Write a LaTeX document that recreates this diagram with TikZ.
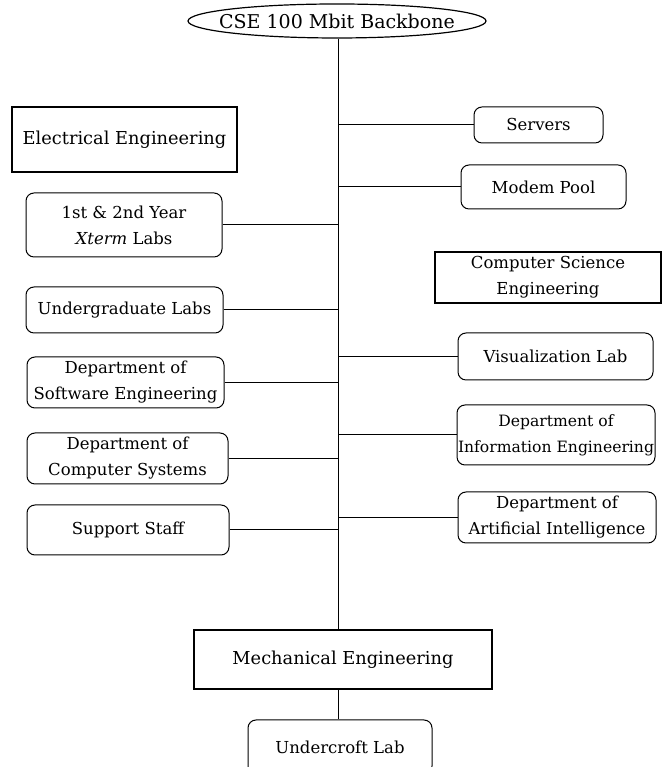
\documentclass[tikz,border=0pt]{standalone}
\usepackage{fontspec}
\setmainfont{DejaVu Serif}
\usetikzlibrary{shapes.geometric}
\begin{document}
\begin{tikzpicture}[x=1pt,y=1pt,
  lbl/.style={font=\fontsize{16.5}{26}\selectfont, align=center, inner sep=0pt},
  big/.style={font=\fontsize{17.8}{26}\selectfont},
  rbox/.style={lbl, draw, line width=1pt, rounded corners=8pt, rectangle},
  sbox/.style={lbl, draw, line width=1.2pt, rectangle},
  conn/.style={line width=1pt}]
\useasboundingbox (0,0) rectangle (663,767);
\coordinate (sp) at (338,0);
% backbone
\node[lbl, font=\fontsize{19}{26}\selectfont, draw, line width=1.2pt, ellipse, inner xsep=-14pt, inner ysep=0pt, minimum width=298, minimum height=34] (bb) at (337,746) {CSE 100 Mbit Backbone};
% left side
\node[sbox, big, minimum width=225, minimum height=65] (ee) at (124.5,627.5) {Electrical Engineering};
\node[rbox, minimum width=196, minimum height=64] (y12) at (124,542) {1st \& 2nd Year\\\textit{Xterm} Labs};
\node[rbox, minimum width=197, minimum height=46] (ug) at (124.5,457) {Undergraduate Labs};
\node[rbox, minimum width=197, minimum height=51] (swe) at (125.5,384.5) {Department of\\Software Engineering};
\node[rbox, minimum width=201, minimum height=51] (cs) at (127.5,308.5) {Department of\\Computer Systems};
\node[rbox, minimum width=202, minimum height=50] (ss) at (128,237) {Support Staff};
% right side
\node[rbox, minimum width=129, minimum height=36] (srv) at (538.5,642) {Servers};
\node[rbox, minimum width=165, minimum height=44] (mp) at (543.5,580) {Modem Pool};
\node[sbox, minimum width=226, minimum height=51] (cse) at (548,489.5) {Computer Science\\Engineering};
\node[rbox, minimum width=195, minimum height=47] (vis) at (555.5,410.5) {Visualization Lab};
\node[rbox, font=\fontsize{15.6}{26}\selectfont, minimum width=198, minimum height=60] (ie) at (556,332) {Department of\\Information Engineering};
\node[rbox, minimum width=198, minimum height=51] (ai) at (557,249.5) {Department of\\Artificial Intelligence};
% bottom
\node[sbox, big, minimum width=298, minimum height=59] (me) at (343,107.5) {Mechanical Engineering};
\node[rbox, minimum width=184, minimum height=54] (uc) at (340,20) {Undercroft Lab};
% spine
\draw[conn] (bb.south -| sp) -- (me.north -| sp);
\draw[conn] (me.south -| sp) -- (uc.north -| sp);
% branches
\foreach \n in {y12,ug,swe,cs,ss} \draw[conn] (\n.east) -- (\n.east -| sp);
\foreach \n in {srv,mp,vis,ie,ai} \draw[conn] (\n.west) -- (\n.west -| sp);
\end{tikzpicture}
\end{document}
